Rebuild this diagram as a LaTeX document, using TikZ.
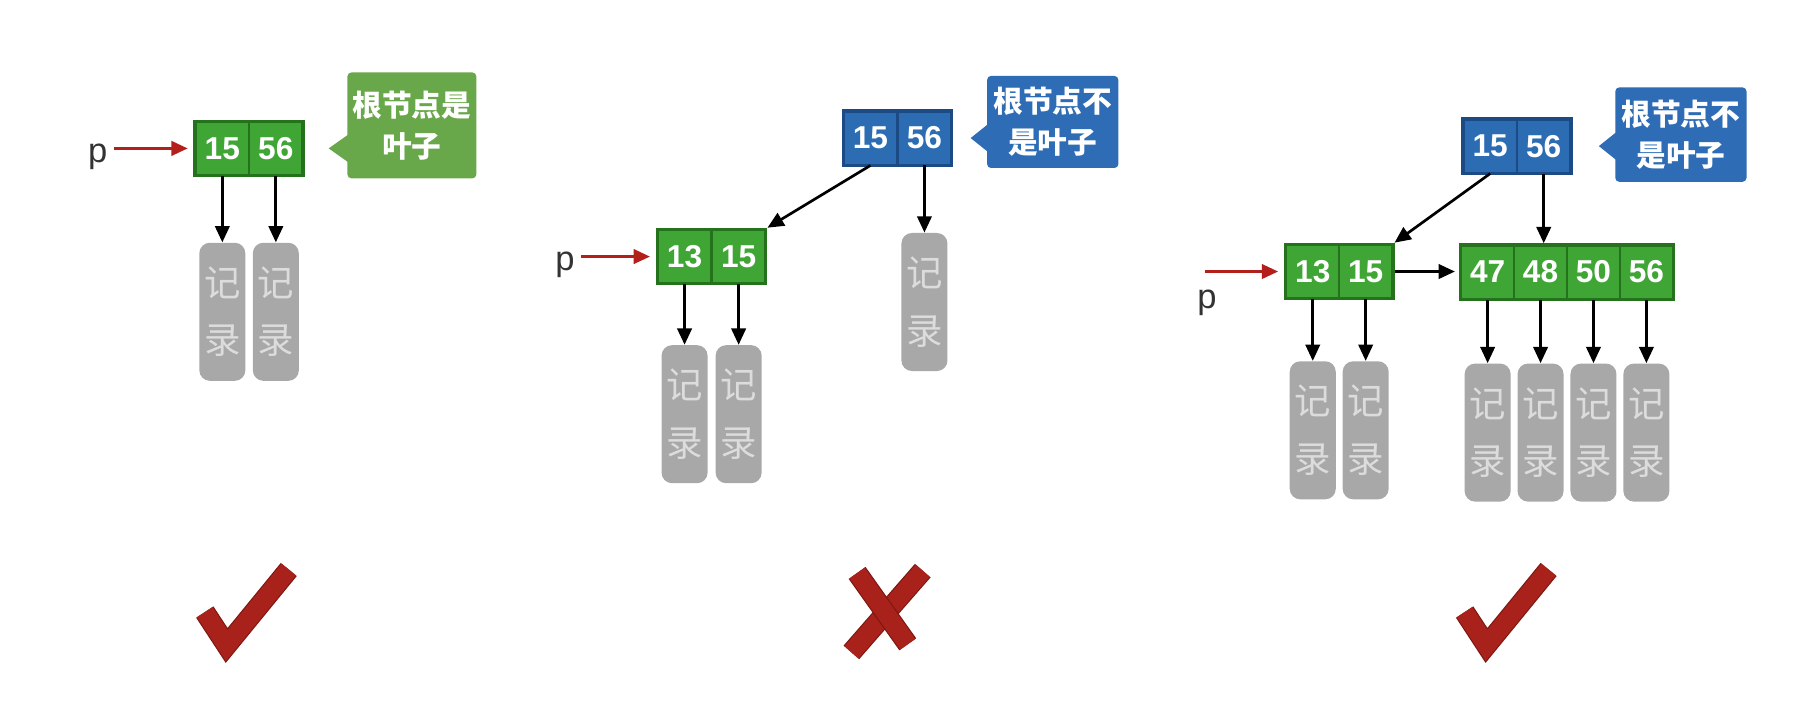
\documentclass[tikz,border=0pt]{standalone}
\usepackage{fontspec}
\setmainfont{Liberation Sans}
\newfontfamily\cjk{Noto Sans CJK SC}
\usetikzlibrary{arrows.meta,fit,calc}
\definecolor{gnfill}{HTML}{3FA535}
\definecolor{gnline}{HTML}{25721C}
\definecolor{blfill}{HTML}{2B6CB3}
\definecolor{blline}{HTML}{1B4A85}
\definecolor{gcall}{HTML}{69A84A}
\definecolor{bcall}{HTML}{2E6DB5}
\definecolor{recfill}{HTML}{A8A8A8}
\definecolor{rectext}{HTML}{DCDCDC}
\definecolor{ptrred}{HTML}{B3201C}
\definecolor{markred}{HTML}{A8221B}
\definecolor{markdark}{HTML}{7E1611}
\begin{document}
\begin{tikzpicture}[x=0.6pt,y=-0.6pt,
 cell/.style={rectangle,draw,line width=1pt,minimum width=27.6pt,minimum height=27.6pt,inner sep=0pt,text=white,font=\bfseries\fontsize{16.5}{16.5}\selectfont},
 gcell/.style={cell,fill=gnfill,draw=gnline},
 bcell/.style={cell,fill=blfill,draw=blline},
 gbox/.style={rectangle,draw=gnline,line width=1.5pt,inner sep=0pt},
 bbox/.style={rectangle,draw=blline,line width=1.5pt,inner sep=0pt},
 rec/.style={rectangle,rounded corners=5.5pt,fill=recfill,minimum width=24pt,minimum height=72pt,inner sep=0pt,text=rectext,align=center,font=\cjk\fontsize{19}{30}\selectfont},
 callout/.style={rectangle,rounded corners=2pt,text=white,align=center,inner sep=0pt,font=\cjk\bfseries\fontsize{15.5}{21.5}\selectfont},
 ptrarrow/.style={draw=ptrred,line width=1.5pt,-{Triangle[length=8.5pt,width=7.5pt]},shorten >=3pt},
 link/.style={draw=black,line width=1.4pt,-{Triangle[length=8.5pt,width=7.5pt]}},
 plabel/.style={font=\fontsize{18}{18}\selectfont,text=black!80},
 markstroke/.style={draw=markred,line width=9.6pt,line join=miter,preaction={draw=markdark,line width=10.8pt}},
]
\useasboundingbox (0,0) rectangle (1568,618);
\fill[white] (0,0) rectangle (1568,618);

% ---------- panel 1 ----------
\node[gcell] (a1) at (193.25,129) {15};
\node[gcell] (a2) at (239.75,129) {56};
\node[gbox,fit=(a1)(a2)] (A) {};
\node[plabel] (pa) at (85,136) {p};
\draw[ptrarrow] (pa.east |- A.west) -- (A.west);
\node[rec] (ra1) at (193.25,271) {记\\录};
\node[rec] (ra2) at (239.75,271) {记\\录};
\draw[link] (a1.south) -- (ra1.north);
\draw[link] (a2.south) -- (ra2.north);
\node[callout,fill=gcall,minimum width=67.2pt,minimum height=55.2pt] (ca) at (358,109) {根节点是\\叶子};
\fill[gcall] ($(ca.west|-A.east)+(1,-12)$) -- ($(ca.west|-A.east)+(-16,0)$) -- ($(ca.west|-A.east)+(1,12)$) -- cycle;

% ---------- panel 2 ----------
\node[bcell] (b1) at (756.5,120) {15};
\node[bcell] (b2) at (803.5,120) {56};
\node[bbox,fit=(b1)(b2)] (B) {};
\node[gcell] (c1) at (595,223) {13};
\node[gcell] (c2) at (642,223) {15};
\node[gbox,fit=(c1)(c2)] (C) {};
\draw[link] (b1.south) -- (C.north east);
\node[rec] (rc1) at (595,360) {记\\录};
\node[rec] (rc2) at (642,360) {记\\录};
\node[rec] (rb2) at (803.5,262.5) {记\\录};
\draw[link] (c1.south) -- (rc1.north);
\draw[link] (c2.south) -- (rc2.north);
\draw[link] (b2.south) -- (rb2.north);
\node[plabel] (pb) at (491,230) {p};
\draw[ptrarrow] (pb.east |- C.west) -- (C.west);
\node[callout,fill=bcall,minimum width=68.4pt,minimum height=48pt] (cb) at (915,106) {根节点不\\是叶子};
\fill[bcall] ($(cb.west|-B.east)+(1,-12)$) -- ($(cb.west|-B.east)+(-14,0)$) -- ($(cb.west|-B.east)+(1,12)$) -- cycle;

% ---------- panel 3 ----------
\node[bcell] (d1) at (1295.25,127) {15};
\node[bcell] (d2) at (1341.75,127) {56};
\node[bbox,fit=(d1)(d2)] (D) {};
\node[gcell] (e1) at (1141,236) {13};
\node[gcell] (e2) at (1187,236) {15};
\node[gbox,fit=(e1)(e2)] (E) {};
\node[gcell] (f1) at (1293,236.5) {47};
\node[gcell] (f2) at (1339,236.5) {48};
\node[gcell] (f3) at (1385,236.5) {50};
\node[gcell] (f4) at (1431,236.5) {56};
\node[gbox,fit=(f1)(f4)] (F) {};
\draw[link] (d1.south) -- (E.north east);
\draw[link] (d2.south) -- (d2.south |- F.north);
\draw[link,shorten >=2pt] (E.east) -- (E.east -| F.west);
\node[rec] (re1) at (1141,374) {记\\录};
\node[rec] (re2) at (1187,374) {记\\录};
\node[rec] (rf1) at (1293,376) {记\\录};
\node[rec] (rf2) at (1339,376) {记\\录};
\node[rec] (rf3) at (1385,376) {记\\录};
\node[rec] (rf4) at (1431,376) {记\\录};
\draw[link] (e1.south) -- (re1.north);
\draw[link] (e2.south) -- (re2.north);
\draw[link] (f1.south) -- (rf1.north);
\draw[link] (f2.south) -- (rf2.north);
\draw[link] (f3.south) -- (rf3.north);
\draw[link] (f4.south) -- (rf4.north);
\node[plabel] (pc) at (1049,263) {p};
\coordinate (sc) at (1047,236);
\draw[ptrarrow] (sc) -- (E.west);
\node[callout,fill=bcall,minimum width=68.4pt,minimum height=49.2pt] (cc) at (1461,117) {根节点不\\是叶子};
\fill[bcall] ($(cc.west|-D.east)+(1,-12)$) -- ($(cc.west|-D.east)+(-14,0)$) -- ($(cc.west|-D.east)+(1,12)$) -- cycle;

% ---------- marks ----------
\draw[markstroke] (178,532) -- (197,561) -- (251,495);
\draw[markstroke] (802,496) -- (740,567);
\draw[markstroke] (745,498) -- (789,560);
\draw[markstroke] (1273,532) -- (1292,561) -- (1346,495);
\end{tikzpicture}
\end{document}
